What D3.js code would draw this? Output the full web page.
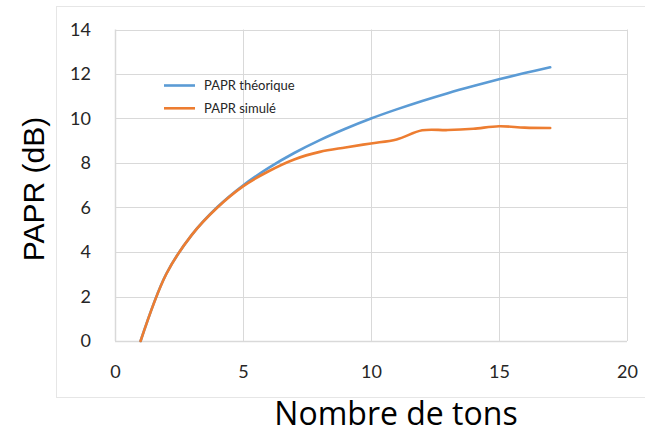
<!DOCTYPE html>
<html><head><meta charset="utf-8">
<script src="https://cdn.jsdelivr.net/npm/d3@7"></script>
<style>body{margin:0;background:#fff}svg{display:block}</style>
</head><body>
<svg id="c" width="645" height="435"></svg>
<script>
const tons = [1,2,3,4,5,6,7,8,9,10,11,12,13,14,15,16,17];
const paprTheorique = [0,3.01,4.77,6.02,6.99,7.78,8.45,9.03,9.54,10,10.41,10.79,11.14,11.46,11.76,12.04,12.30];
const paprSimule = [0,3.0,4.77,6.0,6.95,7.63,8.16,8.5,8.7,8.88,9.06,9.47,9.48,9.54,9.65,9.59,9.57];
const xTicks = [0,5,10,15,20];
const yTicks = [0,2,4,6,8,10,12,14];
const seriesNames = ["PAPR théorique","PAPR simulé"];
const colors = ["#5B9BD5","#ED7D31"];

const svg = d3.select("#c");
const x = d3.scaleLinear().domain([0,20]).range([115,627]);
const y = d3.scaleLinear().domain([0,14]).range([341,29.5]);

// outer chart border
svg.append("rect").attr("x",56.5).attr("y",6.5).attr("width",620).attr("height",391)
  .attr("fill","none").attr("stroke","#e6e6e6").attr("stroke-width",1);

// gridlines
const g = svg.append("g");
g.selectAll(".hy").data(yTicks).join("line")
  .attr("x1",x(0)).attr("x2",x(20)).attr("y1",d=>Math.round(y(d))+0.5).attr("y2",d=>Math.round(y(d))+0.5)
  .attr("stroke","#d9d9d9").attr("stroke-width",d=>d===0?1.5:1);
g.selectAll(".vx").data(xTicks).join("line")
  .attr("y1",y(0)).attr("y2",y(14)).attr("x1",d=>Math.round(x(d))+0.5).attr("x2",d=>Math.round(x(d))+0.5)
  .attr("stroke","#d9d9d9").attr("stroke-width",d=>d===0?1.5:1);

// axes labels via d3 axes
const xAxis = svg.append("g").attr("transform",`translate(0,${y(0)})`)
  .call(d3.axisBottom(x).tickValues(xTicks).tickSize(0).tickPadding(24));
const yAxis = svg.append("g").attr("transform",`translate(${x(0)},0)`)
  .call(d3.axisLeft(y).tickValues(yTicks).tickSize(0).tickPadding(24));
[xAxis,yAxis].forEach(a=>{
  a.select(".domain").remove();
  a.selectAll("text").attr("font-family","Lato, sans-serif").attr("font-size",18).attr("fill","#262626");
});
xAxis.selectAll("text").attr("dy","0.71em").attr("y",24);

// lines
const line = d3.line().x((d,i)=>x(tons[i])).y(d=>y(d)).curve(d3.curveCatmullRom.alpha(0.5));
[paprTheorique,paprSimule].forEach((s,k)=>{
  svg.append("path").datum(s).attr("d",line).attr("fill","none")
    .attr("stroke",colors[k]).attr("stroke-width",2.6).attr("stroke-linecap","round");
});

// legend
const leg = svg.append("g");
seriesNames.forEach((n,k)=>{
  const ly = 85.5 + k*22.8;
  leg.append("line").attr("x1",164).attr("x2",195).attr("y1",ly).attr("y2",ly)
    .attr("stroke",colors[k]).attr("stroke-width",2.6);
  leg.append("text").attr("x",204).attr("y",ly).attr("dy","0.35em")
    .attr("font-family","Lato, sans-serif").attr("font-size",13).attr("fill","#262626").text(n);
});

// titles
svg.append("text").attr("transform","translate(43.5,189) rotate(-90)").attr("text-anchor","middle")
  .attr("font-family","'Liberation Sans', Arial, sans-serif").attr("font-size",30).attr("fill","#000").text("PAPR (dB)");
svg.append("text").attr("x",396).attr("y",425).attr("text-anchor","middle")
  .attr("font-family","'Open Sans', sans-serif").attr("font-size",32).attr("fill","#000").text("Nombre de tons");
</script>
</body></html>
